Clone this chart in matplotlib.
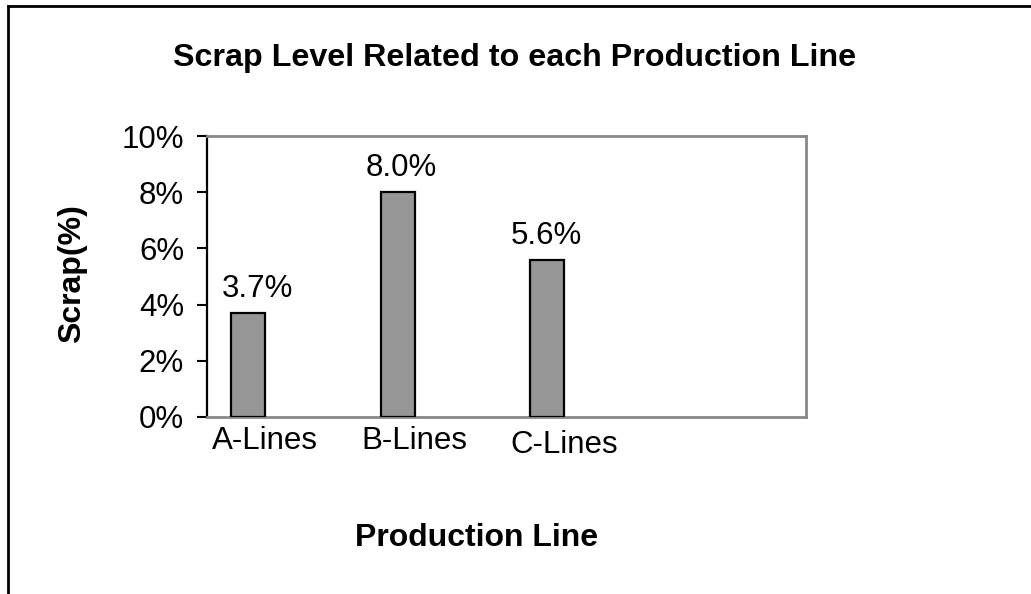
import matplotlib
matplotlib.use("Agg")
import matplotlib.pyplot as plt
from matplotlib.lines import Line2D
from matplotlib.ticker import FuncFormatter, MultipleLocator
import matplotlib.transforms as mtransforms

plt.rcParams['font.family'] = ['Liberation Sans', 'DejaVu Sans']

categories = ["A-Lines", "B-Lines", "C-Lines"]
scrap = [3.7, 8.0, 5.6]
value_labels = ["3.7%", "8.0%", "5.6%"]

fig = plt.figure(figsize=(10.31, 5.94), dpi=100)
ax = fig.add_axes([207/1031, 1-417/594, (806-207)/1031, (417-136)/594])

x = list(range(len(categories)))
ax.bar(x, scrap, width=0.227, color="#969696", edgecolor="black", linewidth=1.6, zorder=3)

ax.set_xlim(-0.273, 3.727)
ax.set_ylim(0, 10)
ax.yaxis.set_major_locator(MultipleLocator(2))
ax.yaxis.set_major_formatter(FuncFormatter(lambda v, p: f"{v:.0f}%"))

ax.set_xticks([i + 0.115 for i in x], categories)
ax.tick_params(axis='x', length=0, pad=6.5, labelsize=22.5)
ax.tick_params(axis='y', length=7.5, width=1.5, direction='out', pad=9, labelsize=22.5, color='black')

# shift C-Lines label slightly down
for i, lab in enumerate(ax.get_xticklabels()):
    if i == 2:
        lab.set_transform(lab.get_transform() + mtransforms.ScaledTranslation(0, -4/100, fig.dpi_scale_trans))

for side in ['top', 'right', 'bottom']:
    ax.spines[side].set_color('#888888')
    ax.spines[side].set_linewidth(2)
ax.spines['left'].set_color('black')
ax.spines['left'].set_linewidth(1.6)

dx = [7, 2.5, -1]
for i, (v, lab) in enumerate(zip(scrap, value_labels)):
    ax.annotate(lab, (i, v), xytext=(dx[i], 11.5), textcoords='offset points',
                ha='center', va='baseline', fontsize=22.5)

fig.text(515/1031, 1-66/594, "Scrap Level Related to each Production Line",
         ha='center', va='baseline', fontsize=23.2, fontweight='bold')
fig.text(477/1031, 1-546/594, "Production Line", ha='center', va='baseline',
         fontsize=23, fontweight='bold')
fig.text(72/1031, 1-274/594, "Scrap(%)", ha='center', va='center', rotation=90,
         fontsize=23, fontweight='bold')

# outer frame (left and top only visible)
fig.add_artist(Line2D([8/1031, 8/1031], [0, 1-6/594], color='black', linewidth=2,
                      transform=fig.transFigure))
fig.add_artist(Line2D([8/1031, 1], [1-6/594, 1-6/594], color='black', linewidth=2,
                      transform=fig.transFigure))

fig.savefig("out.png", dpi=100)
